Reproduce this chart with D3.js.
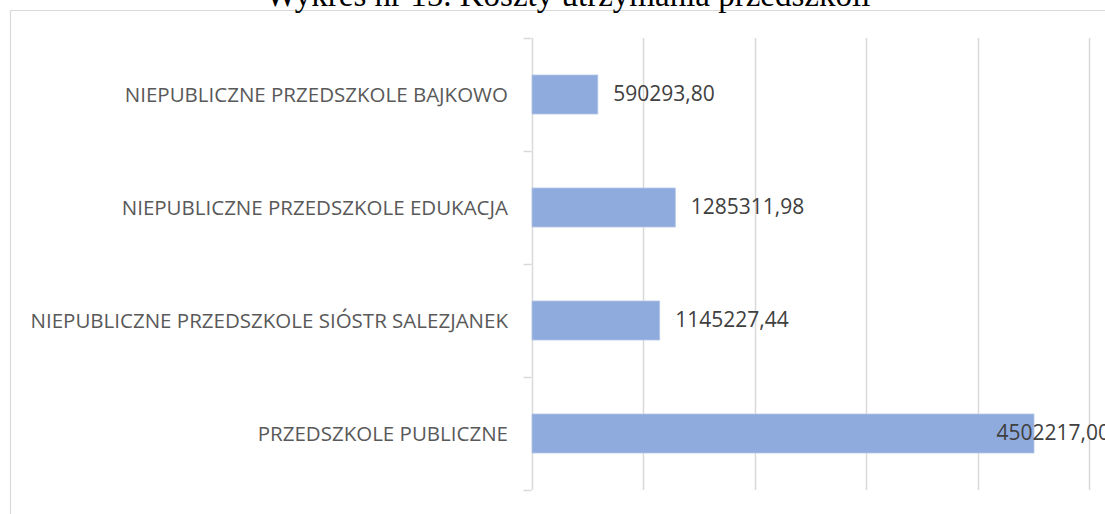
<!DOCTYPE html>
<html>
<head>
  <meta charset="utf-8">
  <script src="https://cdn.jsdelivr.net/npm/d3@7"></script>
  <style>
    body { margin: 0; background: #fff; }
  </style>
</head>
<body>
  <script type="text/javascript">
      "use strict";

      var categories = [
          "NIEPUBLICZNE PRZEDSZKOLE BAJKOWO",
          "NIEPUBLICZNE PRZEDSZKOLE EDUKACJA",
          "NIEPUBLICZNE PRZEDSZKOLE SIÓSTR SALEZJANEK",
          "PRZEDSZKOLE PUBLICZNE"
      ];
      var costs = [590293.80, 1285311.98, 1145227.44, 4502217.00];
      var gridTicks = [0, 1000000, 2000000, 3000000, 4000000, 5000000];
      var title = "Wykres nr 15. Koszty utrzymania przedszkoli";

      var width = 1105,
          height = 514;

      var svg = d3.select("body")
        .append("svg")
          .attr("width", width)
          .attr("height", height);

      // chart frame (only top and left visible in the crop)
      svg.append("path")
          .attr("d", "M10.5,514V10.5H1105")
          .attr("fill", "none")
          .attr("stroke", "#d9d9d9")
          .attr("stroke-width", 1.2);

      svg.append("text")
          .attr("x", 568)
          .attr("y", 6)
          .attr("text-anchor", "middle")
          .style("font-family", "'Liberation Serif', 'Times New Roman', serif")
          .style("font-size", "33px")
          .style("fill", "#000")
          .text(title);

      var x = d3.scaleLinear()
          .domain([0, 5000000])
          .range([531.5, 1089]);

      var y = d3.scaleBand()
          .domain(categories)
          .range([38, 490])
          .paddingInner(0.655)
          .paddingOuter(0.3275);

      // vertical gridlines
      svg.append("g")
          .selectAll("line")
          .data(gridTicks)
          .enter().append("line")
            .attr("x1", function(d) { return Math.round(x(d)) + 0.5; })
            .attr("x2", function(d) { return Math.round(x(d)) + 0.5; })
            .attr("y1", 38)
            .attr("y2", 490)
            .attr("stroke", "#d9d9d9")
            .attr("stroke-width", 1.5);

      // category tick marks on the axis
      var bounds = d3.range(categories.length + 1).map(function(i) {
          return 38 + i * y.step();
      });
      svg.append("g")
          .selectAll("line")
          .data(bounds)
          .enter().append("line")
            .attr("x1", x(0) - 8)
            .attr("x2", x(0))
            .attr("y1", function(d) { return Math.round(d) + 0.5; })
            .attr("y2", function(d) { return Math.round(d) + 0.5; })
            .attr("stroke", "#d9d9d9")
            .attr("stroke-width", 1.5);

      // bars
      svg.append("g")
          .selectAll("rect")
          .data(costs)
          .enter().append("rect")
            .attr("x", x(0) + 0.5)
            .attr("y", function(d, i) { return y(categories[i]); })
            .attr("width", function(d) { return x(d) - x(0); })
            .attr("height", y.bandwidth())
            .attr("fill", "#8faadc")
            .attr("stroke", "#b4c7e7")
            .attr("stroke-width", 0.8);

      // category labels
      svg.append("g")
          .selectAll("text")
          .data(categories)
          .enter().append("text")
            .attr("x", 508)
            .attr("y", function(d) { return y(d) + y.bandwidth() / 2; })
            .attr("dy", "0.35em")
            .attr("text-anchor", "end")
            .style("font-family", "'Open Sans', sans-serif")
            .style("font-size", "20.5px")
            .style("fill", "#595959")
            .text(function(d) { return d; });

      // value labels
      var fmt = function(v) { return v.toFixed(2).replace(".", ","); };
      var labelLimit = 1110;
      svg.append("g")
          .selectAll("text")
          .data(costs)
          .enter().append("text")
            .attr("y", function(d, i) { return y(categories[i]) + y.bandwidth() / 2 - 1; })
            .attr("dy", "0.35em")
            .style("font-family", "'Open Sans', sans-serif")
            .style("font-size", "21px")
            .style("fill", "#404040")
            .text(fmt)
            .attr("x", function(d) {
                var w = this.getComputedTextLength();
                return Math.min(x(d) + 16, labelLimit - w);
            });
  </script>
</body>
</html>
